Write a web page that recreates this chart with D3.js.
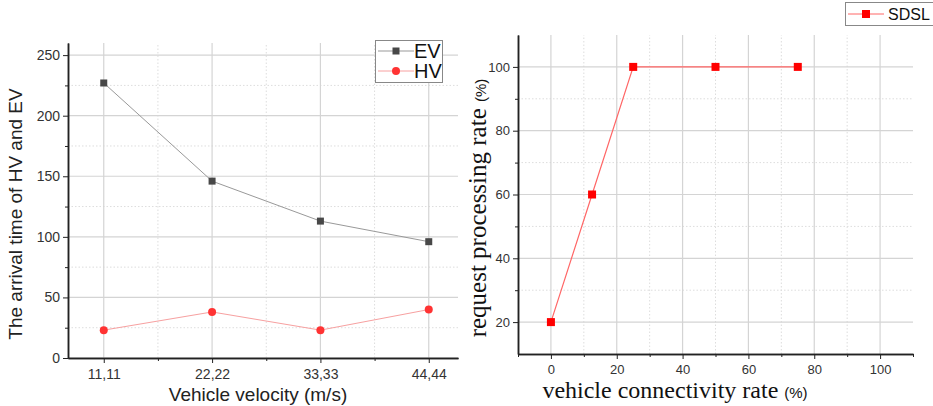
<!DOCTYPE html>
<html>
<head>
<meta charset="utf-8">
<script src="https://cdn.jsdelivr.net/npm/d3@7"></script>
<style>
body { margin: 0; background: #fff; }
svg { display: block; }
text { font-family: Arial, "Liberation Sans", sans-serif; }
</style>
</head>
<body>
<svg id="chart" width="933" height="406"></svg>
<script>
// left panel data
const velocities = ["11,11", "22,22", "33,33", "44,44"]
const evTimes = [227, 146, 113, 96]
const hvTimes = [23, 38, 23, 40]
const leftTicks = [0, 50, 100, 150, 200, 250]

// right panel data
const connRates = [0, 12.5, 25, 50, 75]
const sdslRates = [20, 60, 100, 100, 100]
const rightXTicks = [0, 20, 40, 60, 80, 100]
const rightYTicks = [20, 40, 60, 80, 100]

const svg = d3.select("#chart")

function grid(g, x, y, majX, minX, majY, minY) {
	const [x0, x1] = x.range(), [y0, y1] = y.range()
	g.selectAll(".gmy").data(minY).enter().append("line")
		.attr("x1", x0).attr("x2", x1).attr("y1", d => y(d)).attr("y2", d => y(d))
		.attr("stroke", "#ddd").attr("stroke-dasharray", "1.5,2")
	g.selectAll(".gmx").data(minX).enter().append("line")
		.attr("y1", y0).attr("y2", y1).attr("x1", d => x(d)).attr("x2", d => x(d))
		.attr("stroke", "#ddd").attr("stroke-dasharray", "1.5,2")
	g.selectAll(".gy").data(majY).enter().append("line")
		.attr("x1", x0).attr("x2", x1).attr("y1", d => y(d)).attr("y2", d => y(d))
		.attr("stroke", "#d4d4d4").attr("stroke-width", 1.2)
	g.selectAll(".gx").data(majX).enter().append("line")
		.attr("y1", y0).attr("y2", y1).attr("x1", d => x(d)).attr("x2", d => x(d))
		.attr("stroke", "#d4d4d4").attr("stroke-width", 1.2)
}

function axes(g, x, y, majX, minX, majY, minY, fmtX, fs) {
	const [y0] = y.range(), [x0] = x.range()
	const xa = g.append("g").attr("transform", `translate(0,${y0})`)
	xa.call(d3.axisBottom(x).tickValues(minX).tickSize(3).tickSizeOuter(0).tickFormat(""))
	xa.append("g").call(d3.axisBottom(x).tickValues(majX).tickSize(5).tickPadding(6).tickSizeOuter(0).tickFormat(fmtX))
	const ya = g.append("g").attr("transform", `translate(${x0},0)`)
	ya.call(d3.axisLeft(y).tickValues(minY).tickSize(3).tickSizeOuter(0).tickFormat(""))
	ya.append("g").call(d3.axisLeft(y).tickValues(majY).tickSize(5).tickSizeOuter(0))
	g.selectAll(".domain").attr("stroke", "#222").attr("stroke-width", 1.5)
	g.selectAll(".tick line").attr("stroke", "#222")
	g.selectAll(".tick text").attr("fill", "#333").style("font-size", fs)
}

// ---------- left chart
const xL = d3.scaleLinear().domain([0.67, 4.27]).range([68, 458])
const yL = d3.scaleLinear().domain([0, 260]).range([358, 43])
const left = svg.append("g")
const idx = velocities.map((d, i) => i + 1)
grid(left, xL, yL, idx, [1.5, 2.5, 3.5], leftTicks, [25, 75, 125, 175, 225])
axes(left, xL, yL, idx, [1.5, 2.5, 3.5], leftTicks, [25, 75, 125, 175, 225], d => velocities[d - 1], "14px")

const lineL = d3.line().x((d, i) => xL(i + 1)).y(d => yL(d))
left.append("path").datum(evTimes).attr("d", lineL).attr("fill", "none").attr("stroke", "#999").attr("stroke-width", 1)
left.append("path").datum(hvTimes).attr("d", lineL).attr("fill", "none").attr("stroke", "#f7a0a0").attr("stroke-width", 1)
left.selectAll(".ev").data(evTimes).enter().append("rect")
	.attr("x", (d, i) => xL(i + 1) - 3.5).attr("y", d => yL(d) - 3.5)
	.attr("width", 7).attr("height", 7).attr("fill", "#484848")
left.selectAll(".hv").data(hvTimes).enter().append("circle")
	.attr("cx", (d, i) => xL(i + 1)).attr("cy", d => yL(d)).attr("r", 4).attr("fill", "#f33")

left.append("text").attr("transform", "translate(22,214) rotate(-90)").attr("text-anchor", "middle")
	.style("font-size", "19px").attr("fill", "#222").text("The arrival time of HV and EV")
left.append("text").attr("x", 258).attr("y", 401).attr("text-anchor", "middle")
	.style("font-size", "19px").attr("fill", "#222").text("Vehicle velocity (m/s)")

// left legend
const legL = left.append("g")
legL.append("rect").attr("x", 375.5).attr("y", 40.5).attr("width", 67).attr("height", 42)
	.attr("fill", "#fff").attr("stroke", "#888")
legL.append("line").attr("x1", 378).attr("x2", 414).attr("y1", 51).attr("y2", 51).attr("stroke", "#999")
legL.append("rect").attr("x", 392.5).attr("y", 47.5).attr("width", 7).attr("height", 7).attr("fill", "#484848")
legL.append("text").attr("x", 414).attr("y", 58).style("font-size", "20px").attr("fill", "#111").text("EV")
legL.append("line").attr("x1", 378).attr("x2", 414).attr("y1", 71).attr("y2", 71).attr("stroke", "#f7a0a0")
legL.append("circle").attr("cx", 396).attr("cy", 71).attr("r", 4).attr("fill", "#f33")
legL.append("text").attr("x", 414).attr("y", 78).style("font-size", "20px").attr("fill", "#111").text("HV")

// ---------- right chart
const xR = d3.scaleLinear().domain([-10, 110]).range([518, 913])
const yR = d3.scaleLinear().domain([10, 110]).range([354, 35])
const right = svg.append("g")
grid(right, xR, yR, rightXTicks, [10, 30, 50, 70, 90], rightYTicks, [30, 50, 70, 90])
axes(right, xR, yR, rightXTicks, [-10, 10, 30, 50, 70, 90, 110], rightYTicks, [30, 50, 70, 90], d => d, "13px")

const lineR = d3.line().x((d, i) => xR(connRates[i])).y(d => yR(d))
right.append("path").datum(sdslRates).attr("d", lineR).attr("fill", "none").attr("stroke", "#f66").attr("stroke-width", 1.2)
right.selectAll(".sd").data(sdslRates).enter().append("rect")
	.attr("x", (d, i) => xR(connRates[i]) - 4).attr("y", d => yR(d) - 4)
	.attr("width", 8).attr("height", 8).attr("fill", "#f00")

const yt = right.append("text").attr("transform", "translate(486,208) rotate(-90)").attr("text-anchor", "middle")
	.attr("fill", "#111")
yt.append("tspan").style("font-family", "'Liberation Serif', 'Times New Roman', serif").style("font-size", "25px").text("request processing rate ")
yt.append("tspan").style("font-size", "15px").text("(%)")

const xt = right.append("text").attr("x", 675).attr("y", 398).attr("text-anchor", "middle").attr("fill", "#111")
xt.append("tspan").style("font-family", "'Liberation Serif', 'Times New Roman', serif").style("font-size", "24px").text("vehicle connectivity rate ")
xt.append("tspan").style("font-size", "15px").text("(%)")

// right legend
const legR = right.append("g")
legR.append("rect").attr("x", 845.5).attr("y", 2.5).attr("width", 95).attr("height", 23)
	.attr("fill", "#fff").attr("stroke", "#888")
legR.append("line").attr("x1", 848).attr("x2", 884).attr("y1", 14).attr("y2", 14).attr("stroke", "#f66")
legR.append("rect").attr("x", 862).attr("y", 10).attr("width", 8).attr("height", 8).attr("fill", "#f00")
legR.append("text").attr("x", 888).attr("y", 20).style("font-size", "16px").attr("fill", "#111").text("SDSL")
</script>
</body>
</html>
